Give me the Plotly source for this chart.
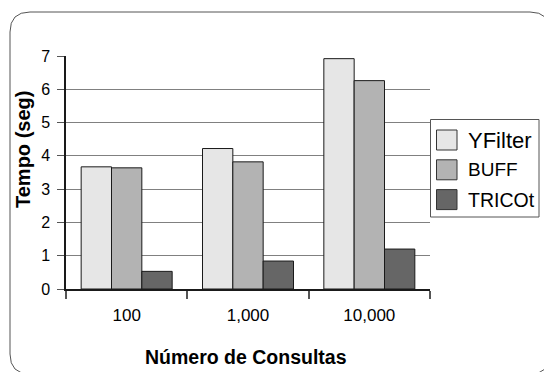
import plotly.graph_objects as go

# --- data -------------------------------------------------------------
categories = ["100", "1,000", "10,000"]
series_names = ["YFilter", "BUFF", "TRICOt"]
yfilter = [3.67, 4.22, 6.92]
buff = [3.64, 3.82, 6.26]
tricot = [0.53, 0.84, 1.20]
y_ticks = [0, 1, 2, 3, 4, 5, 6, 7]

series_values = [yfilter, buff, tricot]
fills = ["#e6e6e6", "#b3b3b3", "#666666"]
legend_sizes = [22, 19, 19.5]

FONT = "Arial, Liberation Sans, sans-serif"

# --- page geometry (pixels) -------------------------------------------
W, H = 544, 372
ML, MR, MT, MB = 66, 114, 56, 83
PW = W - ML - MR
PH = H - MT - MB


def px(x):
    """pixel x -> paper x"""
    return (x - ML) / PW


def py(y):
    """pixel y (from top) -> paper y"""
    return (H - MB - y) / PH


fig = go.Figure()
for name, vals, fill in zip(series_names, series_values, fills):
    fig.add_trace(go.Bar(
        x=categories, y=vals, name=name,
        marker=dict(color=fill, line=dict(color="#1a1a1a", width=1)),
        showlegend=False,
    ))

shapes = []
annotations = []

# rounded outer frame
x0, y0, x1, y1, r = 10, 12, 550, 374, 20
path = (
    f"M {px(x0 + r)},{py(y0)} L {px(x1 - r)},{py(y0)} "
    f"Q {px(x1)},{py(y0)} {px(x1)},{py(y0 + r)} "
    f"L {px(x1)},{py(y1 - r)} Q {px(x1)},{py(y1)} {px(x1 - r)},{py(y1)} "
    f"L {px(x0 + r)},{py(y1)} Q {px(x0)},{py(y1)} {px(x0)},{py(y1 - r)} "
    f"L {px(x0)},{py(y0 + r)} Q {px(x0)},{py(y0)} {px(x0 + r)},{py(y0)} Z"
)
shapes.append(dict(type="path", xref="paper", yref="paper", path=path,
                   line=dict(color="#555555", width=1), layer="below"))

# legend box
shapes.append(dict(type="rect", xref="paper", yref="paper",
                   x0=px(430.5), x1=px(539), y0=py(119.5), y1=py(217),
                   line=dict(color="#555555", width=1), fillcolor="white"))
row_centers = [140, 169.8, 199.6]
for name, fill, size, cy in zip(series_names, fills, legend_sizes, row_centers):
    shapes.append(dict(type="rect", xref="paper", yref="paper",
                       x0=px(436.5), x1=px(457), y0=py(cy - 10), y1=py(cy + 10),
                       line=dict(color="#333333", width=1), fillcolor=fill))
    annotations.append(dict(xref="paper", yref="paper", x=px(466), y=py(cy),
                            xanchor="left", yanchor="middle", showarrow=False,
                            text=name, font=dict(family=FONT, size=size, color="black")))

# axis titles
annotations.append(dict(xref="paper", yref="paper", x=px(246), y=py(357),
                        xanchor="center", yanchor="middle", showarrow=False,
                        text="Número de Consultas",
                        font=dict(family=FONT, size=19.5, color="black", weight="bold")))
annotations.append(dict(xref="paper", yref="paper", x=px(23), y=py(150),
                        xanchor="center", yanchor="middle", showarrow=False,
                        textangle=-90, text="Tempo (seg)",
                        font=dict(family=FONT, size=20, color="black", weight="bold")))

fig.update_layout(
    width=W, height=H,
    margin=dict(l=ML, r=MR, t=MT, b=MB, pad=0),
    paper_bgcolor="white", plot_bgcolor="white",
    barmode="group", bargap=0.25, bargroupgap=0,
    font=dict(family=FONT, color="black"),
    shapes=shapes, annotations=annotations,
    xaxis=dict(
        type="category", tickson="boundaries", ticks="outside", ticklen=8,
        tickcolor="#555555", tickwidth=1.5, showgrid=False,
        showline=True, linecolor="#1a1a1a", linewidth=1.5,
        tickfont=dict(family=FONT, size=17, color="black"),
        ticklabelstandoff=10,
    ),
    yaxis=dict(
        range=[0, 7], tickvals=y_ticks, ticks="outside", ticklen=7,
        tickcolor="#555555", showgrid=True, gridcolor="#808080", gridwidth=1,
        showline=True, linecolor="#1a1a1a", linewidth=1.5, zeroline=False,
        tickfont=dict(family=FONT, size=16, color="black"),
        ticklabelstandoff=4,
    ),
)

fig.write_html("out.html")
